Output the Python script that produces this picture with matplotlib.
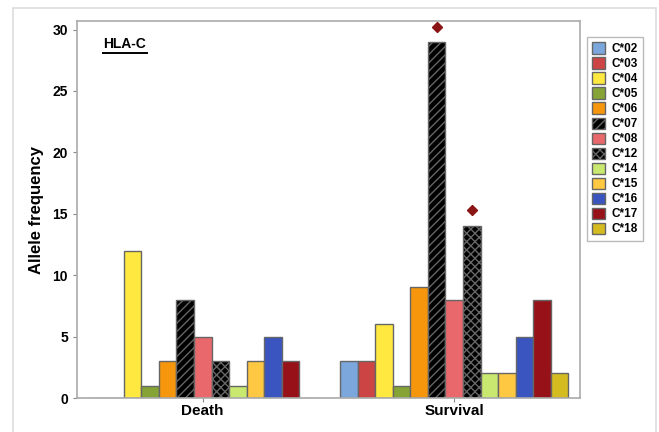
import numpy as np
import matplotlib.pyplot as plt
from matplotlib.patches import Rectangle, Patch

plt.rcParams['font.family'] = ['Liberation Sans', 'DejaVu Sans']
plt.rcParams['font.weight'] = 'bold'

groups = ["Death", "Survival"]
alleles = ["C*02", "C*03", "C*04", "C*05", "C*06", "C*07", "C*08",
           "C*12", "C*14", "C*15", "C*16", "C*17", "C*18"]
death = [0, 0, 12, 1, 3, 8, 5, 3, 1, 3, 5, 3, 0]
survival = [3, 3, 6, 1, 9, 29, 8, 14, 2, 2, 5, 8, 2]
# significant markers (allele, height)
marks = [("C*07", 30.2), ("C*12", 15.3)]

colors = ["#7ba7dc", "#cc4444", "#ffe840", "#86a336", "#f5960c", "#000000",
          "#e8686b", "#000000", "#c8e870", "#ffc843", "#3a55c0", "#961218", "#d4bc20"]
hatches = ["", "", "", "", "", "////", "", "xxxx", "", "", "", "", ""]

fig = plt.figure(figsize=(6.59, 4.32), dpi=100)
ax = fig.add_axes([77/659, 1-398/432, (580-77)/659, (398-21)/432])

n = len(alleles)
w = 0.905 / n
x = np.arange(len(groups))
vals = np.array([death, survival])
for i in range(n):
    pos = x - 0.905/2 + w*(i+0.5)
    ax.bar(pos, vals[:, i], width=w, color=colors[i], edgecolor="#666666",
           linewidth=1.0, hatch=hatches[i], label=alleles[i])

for a, h in marks:
    i = alleles.index(a)
    ax.plot(1 - 0.905/2 + w*(i+0.5), h, "D", color="#8b1414", markersize=5)

ax.set_xlim(-0.5, 1.5)
ax.set_ylim(0, 30.7)
ax.set_yticks([0, 5, 10, 15, 20, 25, 30])
ax.set_xticks(x)
ax.set_xticklabels(groups, fontsize=11, fontweight="bold")
ax.tick_params(axis="y", labelsize=10, colors="#888888", labelcolor="black", length=3)
ax.tick_params(axis="x", colors="#888888", labelcolor="black", length=3, pad=1)
for s in ax.spines.values():
    s.set_color("#aaaaaa")
    s.set_linewidth(1.2)
ax.set_ylabel("Allele frequency", fontsize=12, fontweight="bold", labelpad=6)

ax.text(0.052, 0.938, "HLA-C", transform=ax.transAxes, fontsize=10,
        fontweight="bold", va="center")
ax.plot([0.052, 0.14], [0.914, 0.914], transform=ax.transAxes, color="black",
        linewidth=1.4, clip_on=False)

handles = [Patch(facecolor=colors[i], edgecolor="#666666", hatch=hatches[i])
           for i in range(n)]
leg = fig.legend(handles, alleles, loc="upper left",
                 bbox_to_anchor=(587/659, 1-37/432), fontsize=8.5,
                 frameon=True, fancybox=False, edgecolor="#aaaaaa",
                 handlelength=1.1, handleheight=1.1, handletextpad=0.5,
                 labelspacing=0.2, borderpad=0.45, borderaxespad=0)
leg.get_frame().set_linewidth(1.0)
for t in leg.get_texts():
    t.set_fontweight("bold")

fig.patches.append(Rectangle((13/659, -0.1), (656-13)/659, 1.1 - 8/432,
                             transform=fig.transFigure, fill=False,
                             edgecolor="#dddddd", linewidth=1.2))

fig.savefig("out.png", dpi=100)
